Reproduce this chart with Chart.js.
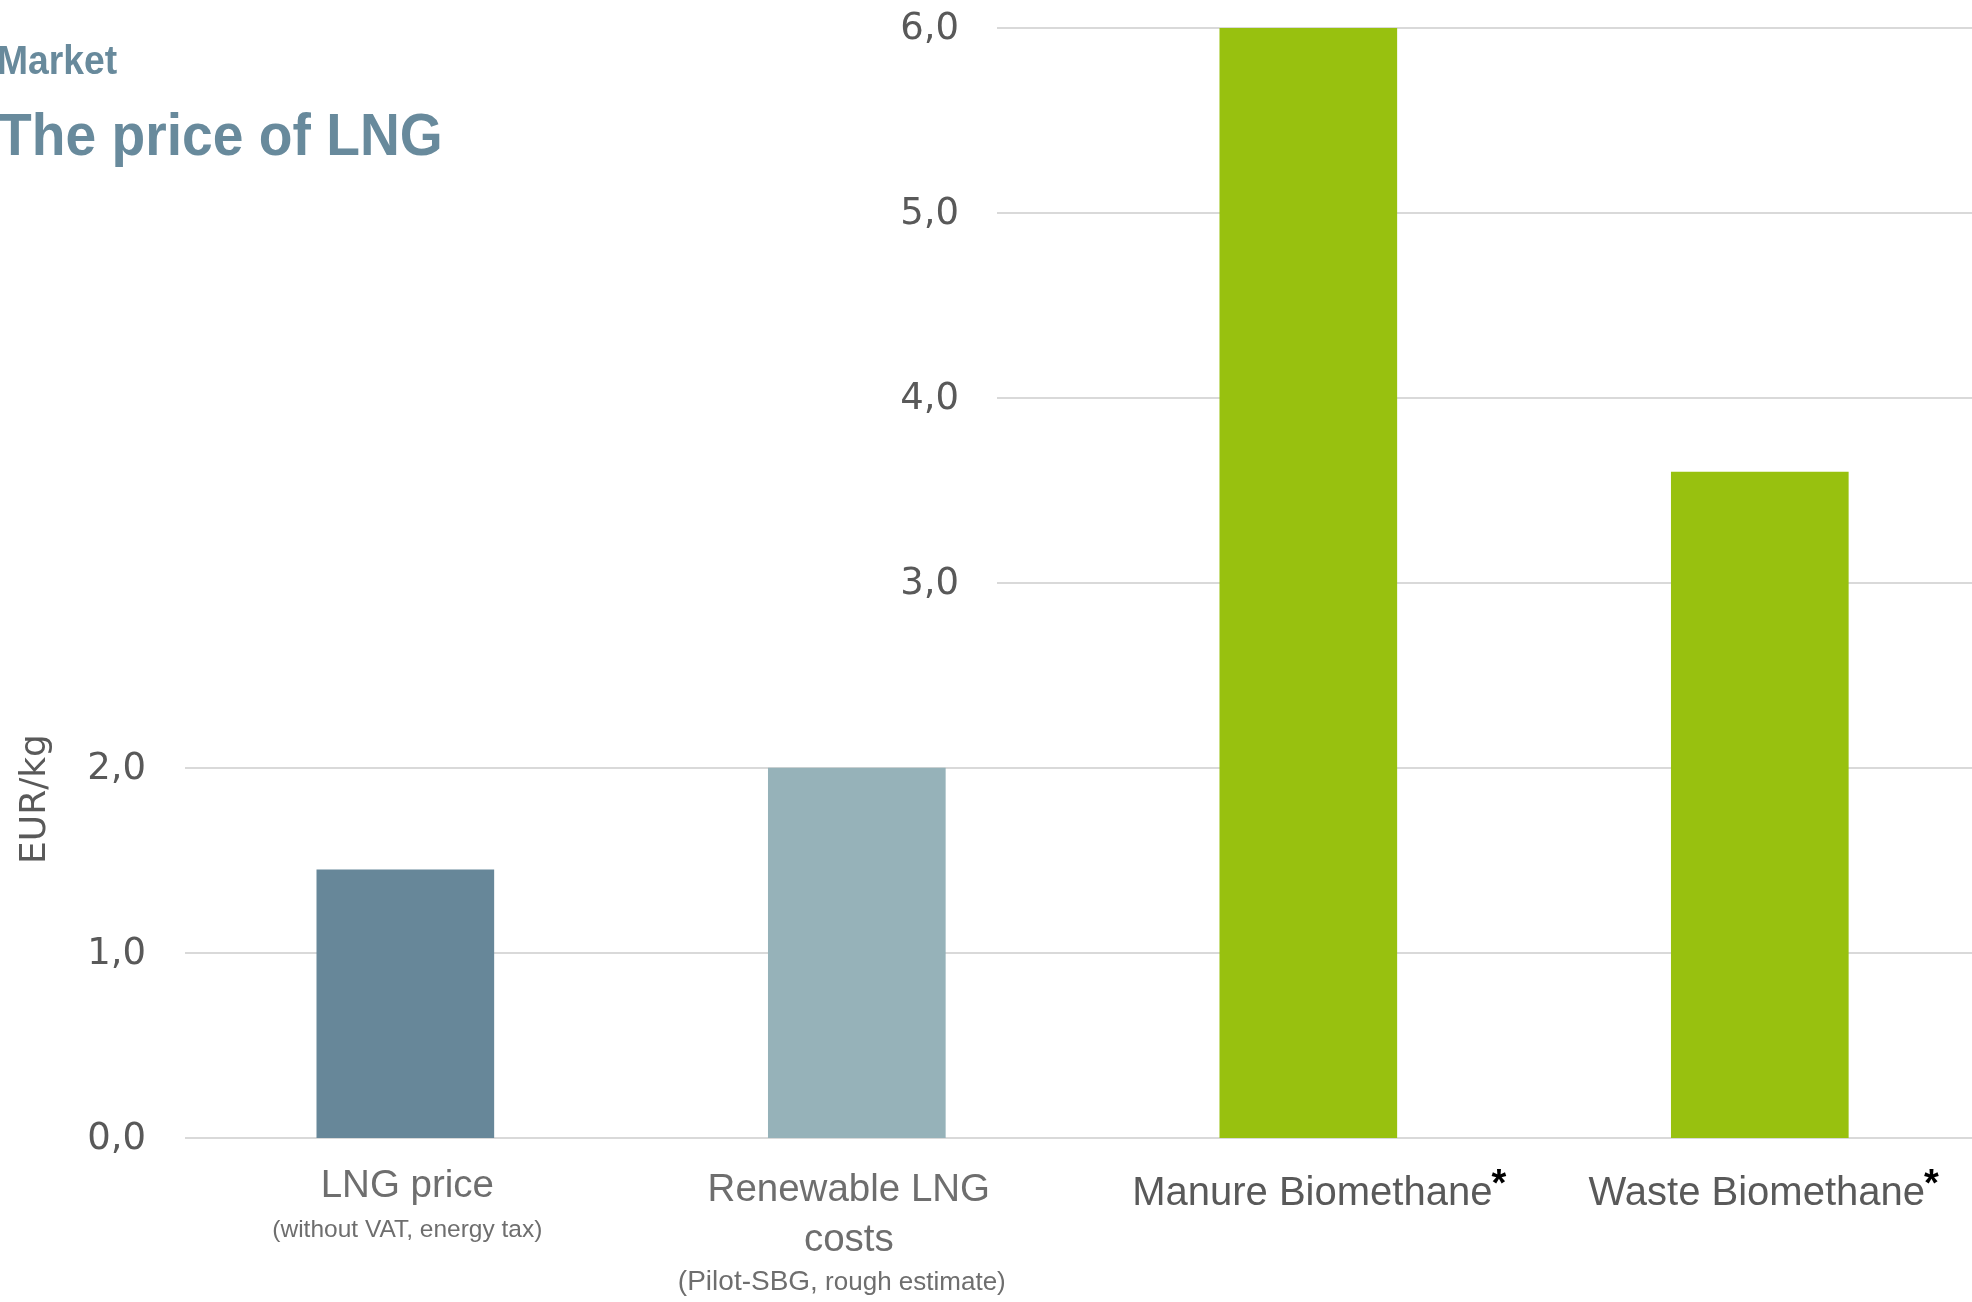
<!DOCTYPE html>
<html>
<head>
<meta charset="utf-8">
<script src="https://cdn.jsdelivr.net/npm/chart.js@4/dist/chart.umd.min.js"></script>
<style>
  html, body { margin: 0; padding: 0; background: #ffffff; }
  #wrap { position: relative; width: 1972px; height: 1302px; }
</style>
</head>
<body>
<div id="wrap"><canvas id="c"></canvas></div>
<script>
// ---- data ----
const categories = ["LNG price", "Renewable LNG costs", "Manure Biomethane", "Waste Biomethane"];
const labelLines = [["LNG price"], ["Renewable LNG", "costs"], ["Manure Biomethane"], ["Waste Biomethane"]];
const noteLines = [["(without VAT, energy tax)"], ["(Pilot-SBG,", " rough estimate)"], [], []];
const starred = [false, false, true, true];
const values = [1.45, 2.0, 6.0, 3.6];
const barColors = ["#678799", "#96b2b9", "#98c10f", "#98c10f"];
const leftTicks = [0, 1, 2];
const rightTicks = [3, 4, 5, 6];
const yTitle = "EUR/kg";
const kicker = "Market";
const titleText = "The price of LNG";

const fmt = v => v.toFixed(1).replace('.', ',');

const decor = {
  id: 'decor',
  beforeDatasetsDraw(chart) {
    const ctx = chart.ctx, y = chart.scales.y, area = chart.chartArea;
    ctx.save();
    ctx.strokeStyle = '#d9d9d9';
    ctx.lineWidth = 2;
    leftTicks.forEach(v => {
      const py = Math.round(y.getPixelForValue(v));
      ctx.beginPath(); ctx.moveTo(area.left, py); ctx.lineTo(area.right, py); ctx.stroke();
    });
    rightTicks.forEach(v => {
      const py = Math.round(y.getPixelForValue(v));
      ctx.beginPath(); ctx.moveTo(997, py); ctx.lineTo(area.right, py); ctx.stroke();
    });
    ctx.restore();
  },
  afterDraw(chart) {
    const ctx = chart.ctx, y = chart.scales.y, x = chart.scales.x, area = chart.chartArea;
    ctx.save();
    // y tick labels
    ctx.fillStyle = '#595959';
    ctx.font = '37px "DejaVu Sans"';
    ctx.textAlign = 'right';
    ctx.textBaseline = 'middle';
    leftTicks.forEach(v => ctx.fillText(fmt(v), 146, y.getPixelForValue(v) + 1));
    rightTicks.forEach(v => ctx.fillText(fmt(v), 959, y.getPixelForValue(v) + 1));

    // y title
    ctx.save();
    ctx.translate(45, 799);
    ctx.rotate(-Math.PI / 2);
    ctx.textAlign = 'center';
    ctx.textBaseline = 'alphabetic';
    ctx.font = '36px "DejaVu Sans"';
    ctx.fillStyle = '#595959';
    ctx.fillText(yTitle, 0, 0);
    ctx.restore();

    // x labels
    const b = area.bottom;
    const lineStyle = [
      { size: 38.5, color: '#6e6e6e', base: [59], dx: 2 },
      { size: 38.5, color: '#6e6e6e', base: [63, 113], dx: -8 },
      { size: 40, color: '#595959', base: [67], dx: 4 },
      { size: 40, color: '#595959', base: [67], dx: -3 }
    ];
    const noteStyle = [
      { sizes: [24.5], base: 99, dx: 2 },
      { sizes: [28, 26], base: 152, dx: -15 },
      { sizes: [], base: 0, dx: 0 },
      { sizes: [], base: 0, dx: 0 }
    ];
    ctx.textBaseline = 'alphabetic';
    categories.forEach((c, i) => {
      const cx = x.getPixelForValue(i);
      const ls = lineStyle[i];
      ctx.font = ls.size + 'px "Liberation Sans"';
      ctx.fillStyle = ls.color;
      ctx.textAlign = 'center';
      labelLines[i].forEach((t, k) => ctx.fillText(t, cx + ls.dx, b + ls.base[k]));
      if (starred[i]) {
        const last = labelLines[i][labelLines[i].length - 1];
        const w = ctx.measureText(last).width;
        ctx.save();
        ctx.font = 'bold 38px "Liberation Sans"';
        ctx.fillStyle = '#000000';
        ctx.textAlign = 'left';
        ctx.fillText('*', cx + ls.dx + w / 2 - 1, b + ls.base[0] - 9);
        ctx.restore();
      }
      const ns = noteStyle[i];
      const parts = noteLines[i];
      if (parts.length) {
        let widths = parts.map((p, k) => { ctx.font = ns.sizes[k] + 'px "Liberation Sans"'; return ctx.measureText(p).width; });
        const total = widths.reduce((a, v) => a + v, 0);
        let px = cx + ns.dx - total / 2;
        ctx.textAlign = 'left';
        ctx.fillStyle = '#6e6e6e';
        parts.forEach((p, k) => {
          ctx.font = ns.sizes[k] + 'px "Liberation Sans"';
          ctx.fillText(p, px, b + ns.base);
          px += widths[k];
        });
      }
    });

    // headings
    ctx.fillStyle = '#688a9c';
    ctx.textAlign = 'left';
    ctx.save();
    ctx.scale(0.92, 1);
    ctx.font = 'bold 40.5px "Liberation Sans"';
    ctx.fillText(kicker, -3 / 0.92, 74);
    ctx.font = 'bold 60px "Liberation Sans"';
    ctx.fillText(titleText, -2 / 0.92, 155);
    ctx.restore();
    ctx.restore();
  }
};

new Chart(document.getElementById('c'), {
  type: 'bar',
  data: {
    datasets: [{
      data: values.map((v, i) => ({ x: i, y: v })),
      backgroundColor: barColors,
      borderWidth: 0,
      barThickness: 177
    }]
  },
  options: {
    responsive: true,
    maintainAspectRatio: false,
    devicePixelRatio: 1,
    animation: false,
    layout: { padding: { left: 185, right: 0, top: 28, bottom: 164 } },
    plugins: { legend: { display: false }, tooltip: { enabled: false }, title: { display: false } },
    scales: {
      x: { type: 'linear', min: -0.488, max: 3.47, display: false, offset: false },
      y: { type: 'linear', min: 0, max: 6, display: false }
    }
  },
  plugins: [decor]
});
</script>
</body>
</html>
